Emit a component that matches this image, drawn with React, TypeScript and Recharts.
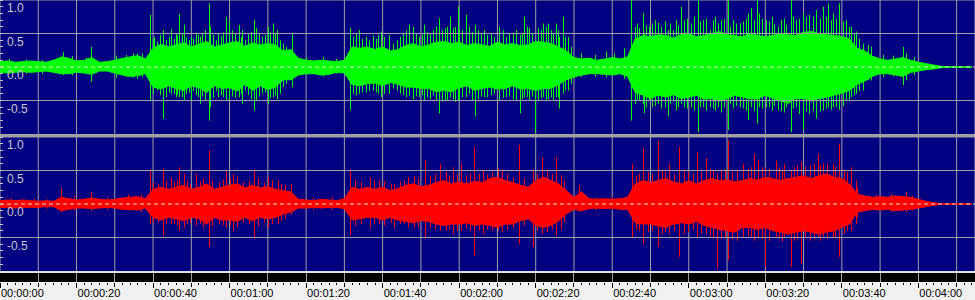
import React from "react";
import { Area, Bar, CartesianGrid, ComposedChart, ReferenceLine, XAxis, YAxis } from "recharts";

// seconds visible across the 975px view
const secondsShown = 254.8;
const binStep = 2;

const gridSeconds = [10, 20, 30, 40, 50, 60, 70, 80, 90, 100, 110, 120, 130, 140, 150, 160, 170, 180, 190, 200, 210, 220, 230, 240, 250];
const rulerSeconds = Array.from({ length: 128 }, (_, i) => i * 2);
const timeLabels = ["00:00:00", "00:00:20", "00:00:40", "00:01:00", "00:01:20", "00:01:40", "00:02:00", "00:02:20", "00:02:40", "00:03:00", "00:03:20", "00:03:40", "00:04:00"];
const ampTicks = [1, 0.9, 0.8, 0.7, 0.6, 0.5, 0.4, 0.3, 0.2, 0.1, 0, -0.1, -0.2, -0.3, -0.4, -0.5, -0.6, -0.7, -0.8, -0.9];
const ampLabels = [1, 0.5, 0, -0.5];
const gridLevels = [1, 0.5, -0.5];

// envelope of the left channel, one value per 2 s
const greenHi = [
  0.08, 0.09, 0.07, 0.08, 0.09, 0.08, 0.07, 0.10, 0.15, 0.13,
  0.09, 0.10, 0.14, 0.07, 0.08, 0.10, 0.13, 0.15, 0.17, 0.12,
  0.28, 0.34, 0.30, 0.33, 0.36, 0.30, 0.34, 0.38, 0.30, 0.33,
  0.36, 0.38, 0.31, 0.36, 0.33, 0.35, 0.33, 0.24, 0.26, 0.13,
  0.10, 0.09, 0.10, 0.09, 0.08, 0.10, 0.30, 0.28, 0.30, 0.26,
  0.30, 0.24, 0.26, 0.32, 0.35, 0.30, 0.33, 0.37, 0.38, 0.35,
  0.37, 0.32, 0.35, 0.33, 0.31, 0.37, 0.33, 0.35, 0.32, 0.33,
  0.38, 0.37, 0.35, 0.30, 0.24, 0.14, 0.12, 0.13, 0.10, 0.12,
  0.14, 0.12, 0.15, 0.42, 0.47, 0.45, 0.48, 0.47, 0.43, 0.48,
  0.50, 0.45, 0.47, 0.50, 0.53, 0.48, 0.47, 0.45, 0.50, 0.47,
  0.45, 0.47, 0.50, 0.48, 0.47, 0.52, 0.53, 0.50, 0.48, 0.47,
  0.45, 0.42, 0.28, 0.24, 0.16, 0.12, 0.10, 0.12, 0.14, 0.10,
  0.07, 0.05, 0.03, 0.01, 0.005, 0.005, 0.005, 0.005,
];
const greenLo = [
  -0.08, -0.09, -0.08, -0.07, -0.08, -0.07, -0.06, -0.08, -0.10, -0.10,
  -0.08, -0.09, -0.11, -0.06, -0.06, -0.09, -0.12, -0.14, -0.13, -0.10,
  -0.30, -0.33, -0.28, -0.32, -0.35, -0.28, -0.31, -0.38, -0.28, -0.32,
  -0.31, -0.36, -0.26, -0.35, -0.28, -0.34, -0.30, -0.19, -0.19, -0.12,
  -0.10, -0.10, -0.12, -0.11, -0.08, -0.09, -0.26, -0.28, -0.25, -0.24,
  -0.28, -0.23, -0.26, -0.30, -0.30, -0.32, -0.32, -0.37, -0.35, -0.37,
  -0.31, -0.28, -0.35, -0.32, -0.30, -0.33, -0.32, -0.28, -0.33, -0.32,
  -0.35, -0.32, -0.32, -0.26, -0.19, -0.15, -0.12, -0.10, -0.10, -0.11,
  -0.12, -0.10, -0.14, -0.38, -0.42, -0.47, -0.42, -0.45, -0.41, -0.47,
  -0.45, -0.42, -0.48, -0.47, -0.51, -0.47, -0.42, -0.45, -0.47, -0.48,
  -0.42, -0.47, -0.51, -0.54, -0.47, -0.47, -0.51, -0.47, -0.45, -0.42,
  -0.39, -0.35, -0.26, -0.21, -0.14, -0.10, -0.10, -0.12, -0.14, -0.08,
  -0.06, -0.04, -0.03, -0.01, -0.005, -0.005, -0.005, -0.005,
];

// envelope of the right channel, one value per 2 s
const redHi = [
  0.05, 0.06, 0.05, 0.06, 0.05, 0.04, 0.05, 0.04, 0.10, 0.08,
  0.06, 0.07, 0.09, 0.07, 0.06, 0.07, 0.09, 0.10, 0.11, 0.08,
  0.22, 0.25, 0.22, 0.25, 0.28, 0.22, 0.25, 0.30, 0.22, 0.25,
  0.28, 0.30, 0.24, 0.28, 0.24, 0.26, 0.22, 0.20, 0.18, 0.07,
  0.06, 0.05, 0.07, 0.06, 0.05, 0.08, 0.25, 0.22, 0.25, 0.22,
  0.25, 0.20, 0.23, 0.28, 0.30, 0.26, 0.28, 0.32, 0.35, 0.30,
  0.33, 0.30, 0.34, 0.32, 0.38, 0.40, 0.35, 0.32, 0.28, 0.25,
  0.35, 0.40, 0.35, 0.30, 0.20, 0.10, 0.18, 0.08, 0.07, 0.08,
  0.07, 0.08, 0.10, 0.30, 0.35, 0.32, 0.35, 0.38, 0.33, 0.30,
  0.35, 0.30, 0.35, 0.38, 0.35, 0.36, 0.33, 0.35, 0.38, 0.36,
  0.40, 0.38, 0.35, 0.38, 0.40, 0.42, 0.38, 0.42, 0.45, 0.40,
  0.38, 0.30, 0.15, 0.12, 0.10, 0.11, 0.10, 0.12, 0.11, 0.10,
  0.07, 0.04, 0.02, 0.005, 0.005, 0.005, 0.005, 0.005,
];
const redLo = [
  -0.05, -0.05, -0.06, -0.05, -0.05, -0.05, -0.04, -0.04, -0.10, -0.08,
  -0.06, -0.06, -0.07, -0.06, -0.05, -0.06, -0.08, -0.08, -0.09, -0.06,
  -0.20, -0.24, -0.20, -0.22, -0.25, -0.20, -0.22, -0.30, -0.20, -0.24,
  -0.24, -0.26, -0.20, -0.25, -0.20, -0.22, -0.20, -0.15, -0.12, -0.06,
  -0.06, -0.05, -0.06, -0.05, -0.05, -0.07, -0.24, -0.22, -0.20, -0.20,
  -0.24, -0.20, -0.24, -0.26, -0.28, -0.25, -0.26, -0.30, -0.32, -0.30,
  -0.30, -0.28, -0.32, -0.30, -0.32, -0.35, -0.30, -0.30, -0.25, -0.22,
  -0.32, -0.35, -0.32, -0.25, -0.15, -0.08, -0.10, -0.07, -0.06, -0.07,
  -0.06, -0.08, -0.08, -0.28, -0.30, -0.30, -0.33, -0.35, -0.30, -0.28,
  -0.30, -0.26, -0.32, -0.35, -0.38, -0.40, -0.42, -0.35, -0.35, -0.38,
  -0.35, -0.40, -0.42, -0.45, -0.42, -0.40, -0.42, -0.45, -0.42, -0.40,
  -0.35, -0.30, -0.12, -0.10, -0.08, -0.09, -0.08, -0.10, -0.09, -0.08,
  -0.06, -0.04, -0.02, -0.005, -0.005, -0.005, -0.005, -0.005,
];

// single peaks: [second, top, bottom]
const greenPeaks = [
  [16.5, 0.22, -0.12], [24, 0.3, -0.22], [30.5, 0.17, -0.16], [36, 0.2, -0.18],
  [39.4, 0.78, -0.49], [40.5, 0.45, -0.3], [42.7, 0.55, -0.77], [44.9, 0.56, -0.4], [46, 0.5, -0.45],
  [47.0, 0.79, -0.45], [48.2, 0.63, -0.5], [50, 0.45, -0.5], [51.4, 0.5, -0.42], [52.3, 0.45, -0.55],
  [54.7, 0.95, -0.8], [55.1, 0.6, -0.6], [57, 0.5, -0.45], [59.2, 0.75, -0.5], [60.1, 0.68, -0.48],
  [62.5, 0.63, -0.45], [63.4, 0.55, -0.55], [65, 0.5, -0.42], [66.6, 0.7, -0.65], [67.1, 0.58, -0.5],
  [70.1, 0.6, -0.55], [71.4, 0.65, -0.45], [72.6, 0.55, -0.48], [73.4, 0.4, -0.4], [76.5, 0.5, -0.3],
  [91.7, 0.58, -0.64], [94.0, 0.55, -0.4], [95.8, 0.45, -0.38], [97.5, 0.47, -0.35], [99.7, 0.53, -0.45],
  [101.9, 0.48, -0.4], [107.1, 0.63, -0.42], [108.0, 0.6, -0.48], [109.7, 0.45, -0.45], [111.0, 0.63, -0.5],
  [114.9, 0.73, -0.69], [116.3, 0.58, -0.5], [117.8, 0.75, -0.45], [119.7, 0.9, -0.5], [120.2, 0.55, -0.5],
  [121.9, 0.78, -0.45], [122.8, 0.6, -0.4], [124.3, 0.63, -0.74], [126.7, 0.55, -0.45], [130.6, 0.6, -0.5],
  [132.4, 0.45, -0.45], [134.1, 0.5, -0.48], [136.0, 0.48, -0.69], [137.0, 0.75, -0.45], [138.5, 0.58, -0.5],
  [140.0, 0.4, -0.98], [142.0, 0.65, -0.45], [143.3, 0.65, -0.48], [145.4, 0.65, -0.45], [146.3, 0.45, -0.62],
  [147.2, 0.75, -0.4], [148.5, 0.45, -0.35], [158.5, 0.23, -0.15], [160.7, 0.2, -0.12], [163.3, 0.28, -0.18],
  [165.0, 1.0, -0.8], [167.2, 0.58, -0.5], [168.1, 0.8, -0.55], [168.5, 0.5, -0.69], [169.8, 0.6, -0.5],
  [174.7, 0.55, -0.74], [176.0, 0.55, -0.5], [178.2, 0.9, -0.55], [182.5, 1.0, -0.97], [183.8, 0.7, -0.6],
  [185.6, 0.55, -0.6], [187.7, 0.65, -0.6], [190.4, 1.0, -0.94], [190.8, 0.6, -0.55], [193.4, 0.65, -0.6],
  [195.6, 0.8, -0.79], [196.5, 0.88, -0.6], [198.0, 1.0, -0.84], [198.6, 0.8, -0.6], [200.4, 0.7, -0.6],
  [202.5, 0.63, -0.58], [203.4, 0.6, -0.64], [205.6, 0.63, -0.6], [206.9, 1.0, -0.97], [208.2, 0.7, -0.6],
  [210.0, 0.8, -0.94], [212.6, 0.75, -0.65], [213.4, 0.85, -0.77], [215.2, 0.9, -0.65], [216.5, 0.95, -0.6],
  [217.8, 0.8, -0.6], [219.5, 0.95, -0.64], [221.3, 0.7, -0.5], [222.6, 0.6, -0.45], [223.9, 0.53, -0.4],
  [225.6, 0.35, -0.35], [226.9, 0.33, -0.2], [227.8, 0.3, -0.2], [236.1, 0.3, -0.27], [237.0, 0.2, -0.2],
];
// ragged edge of the left channel
const greenFringe = [
  [2.5, 0.12, -0.1], [7, 0.11, -0.1], [11, 0.1, -0.1], [19, 0.16, -0.12], [22.5, 0.14, -0.11],
  [33, 0.18, -0.15], [35, 0.2, -0.16], [37.3, 0.2, -0.15],
  [40.0, 0.42, -0.4], [41.2, 0.38, -0.35], [42.0, 0.48, -0.42], [43.5, 0.4, -0.45], [44.3, 0.45, -0.38],
  [45.5, 0.42, -0.4], [46.5, 0.47, -0.42], [47.6, 0.5, -0.45], [48.8, 0.44, -0.4], [49.5, 0.4, -0.38],
  [50.6, 0.42, -0.36], [51.9, 0.48, -0.45], [53.0, 0.5, -0.44], [53.8, 0.55, -0.5], [55.8, 0.48, -0.46],
  [56.5, 0.4, -0.36], [57.8, 0.46, -0.42], [58.5, 0.52, -0.45], [60.8, 0.55, -0.44], [61.6, 0.5, -0.46],
  [63.0, 0.45, -0.4], [64.2, 0.4, -0.35], [65.7, 0.52, -0.48], [67.8, 0.5, -0.44], [68.5, 0.45, -0.4],
  [69.3, 0.48, -0.38], [70.8, 0.52, -0.46], [72.0, 0.5, -0.42], [74.0, 0.35, -0.3], [75.0, 0.3, -0.25],
  [80, 0.14, -0.12], [84.5, 0.15, -0.14], [88, 0.12, -0.1],
  [92.5, 0.45, -0.4], [93.3, 0.5, -0.42], [94.8, 0.42, -0.38], [96.5, 0.4, -0.36], [98.3, 0.42, -0.38],
  [99.0, 0.48, -0.4], [100.6, 0.45, -0.4], [102.8, 0.35, -0.32], [103.8, 0.4, -0.35], [104.6, 0.45, -0.4],
  [105.5, 0.5, -0.42], [106.3, 0.55, -0.45], [108.8, 0.5, -0.44], [110.3, 0.48, -0.42], [111.8, 0.52, -0.45],
  [112.6, 0.5, -0.48], [113.4, 0.55, -0.42], [114.2, 0.6, -0.5], [115.6, 0.55, -0.52], [117.0, 0.6, -0.5],
  [118.5, 0.58, -0.48], [119.0, 0.6, -0.52], [121.0, 0.55, -0.45], [123.5, 0.52, -0.5], [125.0, 0.55, -0.48],
  [125.8, 0.5, -0.44], [127.5, 0.48, -0.45], [128.4, 0.5, -0.42], [129.2, 0.45, -0.4], [131.5, 0.55, -0.46],
  [133.2, 0.5, -0.44], [135.0, 0.55, -0.5], [136.5, 0.5, -0.48], [137.8, 0.6, -0.45], [139.2, 0.5, -0.44],
  [140.8, 0.58, -0.5], [141.4, 0.55, -0.46], [142.8, 0.6, -0.5], [144.0, 0.55, -0.45], [144.7, 0.5, -0.5],
  [146.0, 0.55, -0.45], [147.8, 0.45, -0.35], [149.3, 0.3, -0.25],
  [152, 0.2, -0.15], [155.5, 0.18, -0.14],
  [166.0, 0.6, -0.55], [166.6, 0.65, -0.5], [169.0, 0.62, -0.6], [170.5, 0.65, -0.6], [171.3, 0.7, -0.58],
  [172.2, 0.66, -0.55], [173.0, 0.6, -0.62], [173.8, 0.68, -0.6], [175.3, 0.65, -0.55], [176.7, 0.7, -0.65],
  [177.4, 0.62, -0.6], [179.0, 0.7, -0.6], [179.8, 0.72, -0.62], [180.6, 0.65, -0.6], [181.4, 0.75, -0.65],
  [183.0, 0.68, -0.6], [184.6, 0.72, -0.65], [186.4, 0.7, -0.62], [187.0, 0.75, -0.65], [188.5, 0.7, -0.68],
  [189.3, 0.72, -0.6], [191.6, 0.7, -0.62], [192.5, 0.65, -0.58], [194.2, 0.68, -0.62], [195.0, 0.72, -0.65],
  [197.2, 0.7, -0.66], [199.4, 0.72, -0.62], [201.2, 0.68, -0.6], [201.8, 0.75, -0.65], [204.2, 0.7, -0.66],
  [205.0, 0.72, -0.68], [207.5, 0.75, -0.62], [209.0, 0.72, -0.7], [210.8, 0.74, -0.66], [211.6, 0.78, -0.7],
  [214.3, 0.72, -0.66], [216.0, 0.75, -0.62], [217.2, 0.7, -0.64], [218.6, 0.72, -0.6], [220.4, 0.68, -0.58],
  [222.0, 0.6, -0.5], [223.2, 0.5, -0.42], [224.5, 0.42, -0.36],
  [231, 0.18, -0.15], [233.5, 0.17, -0.14], [239, 0.15, -0.12],
];

const redPeaks = [
  [16.1, 0.23, -0.12], [24.0, 0.18, -0.1], [39.4, 0.5, -0.3], [42.7, 0.53, -0.47], [44.9, 0.4, -0.3],
  [47.0, 0.55, -0.4], [48.3, 0.45, -0.35], [51.4, 0.45, -0.32], [54.7, 0.8, -0.64], [59.2, 0.5, -0.35],
  [61.0, 0.45, -0.4], [66.6, 0.5, -0.5], [70.1, 0.4, -0.35], [72.7, 0.35, -0.3], [76.2, 0.3, -0.15],
  [91.5, 0.5, -0.47], [96.7, 0.4, -0.35], [99.3, 0.35, -0.3], [103.2, 0.3, -0.35], [105.8, 0.35, -0.3],
  [111.1, 0.65, -0.5], [115.0, 0.6, -0.4], [118.5, 0.55, -0.45], [120.6, 0.6, -0.4], [124.1, 0.85, -0.77],
  [126.3, 0.5, -0.45], [130.2, 0.53, -0.4], [135.8, 0.88, -0.6], [139.3, 0.5, -0.64], [141.9, 0.7, -0.45],
  [145.4, 0.7, -0.47], [146.7, 0.43, -0.38], [151.5, 0.28, -0.12], [165.3, 0.6, -0.5], [168.1, 0.83, -0.6],
  [172.0, 0.95, -0.64], [175.0, 0.6, -0.45], [177.7, 0.85, -0.79], [182.4, 0.78, -0.5], [184.6, 0.68, -0.45],
  [187.4, 0.45, -0.97], [190.3, 0.95, -0.84], [194.2, 0.6, -0.5], [197.3, 0.75, -0.55], [198.1, 0.65, -0.5],
  [200.1, 0.53, -0.94], [202.9, 0.65, -0.5], [205.1, 0.6, -0.5], [206.8, 0.5, -0.94], [209.4, 0.63, -0.89],
  [213.8, 0.75, -0.5], [215.1, 0.6, -0.5], [217.7, 0.6, -0.5], [219.3, 0.9, -0.79], [222.5, 0.55, -0.4],
  [223.8, 0.35, -0.3], [236.8, 0.18, -0.12],
];
// ragged edge of the right channel
const redFringe = [
  [3, 0.08, -0.07], [9, 0.08, -0.06], [12.5, 0.07, -0.07], [19.5, 0.12, -0.1], [28, 0.1, -0.08],
  [33.5, 0.14, -0.1], [37, 0.15, -0.12],
  [40.2, 0.32, -0.28], [41.3, 0.3, -0.28], [43.6, 0.35, -0.3], [45.6, 0.33, -0.3], [46.4, 0.36, -0.32],
  [48.9, 0.35, -0.3], [49.8, 0.3, -0.28], [52.5, 0.34, -0.3], [53.3, 0.38, -0.35], [55.6, 0.35, -0.33],
  [57.4, 0.32, -0.3], [58.3, 0.36, -0.32], [60.3, 0.38, -0.32], [62.2, 0.4, -0.35], [63.6, 0.33, -0.28],
  [65.2, 0.35, -0.3], [67.5, 0.38, -0.33], [69.0, 0.32, -0.28], [71.2, 0.36, -0.3], [73.5, 0.3, -0.25],
  [74.6, 0.28, -0.22], [82, 0.09, -0.08], [87, 0.1, -0.08],
  [92.8, 0.36, -0.32], [94.5, 0.33, -0.3], [97.8, 0.35, -0.3], [100.5, 0.34, -0.32], [102.3, 0.3, -0.28],
  [104.6, 0.33, -0.3], [106.8, 0.4, -0.35], [108.2, 0.42, -0.36], [109.5, 0.38, -0.35], [112.5, 0.42, -0.36],
  [113.8, 0.45, -0.38], [116.6, 0.48, -0.4], [117.5, 0.42, -0.38], [119.6, 0.45, -0.4], [121.8, 0.42, -0.36],
  [122.9, 0.46, -0.4], [125.2, 0.45, -0.4], [127.4, 0.44, -0.38], [128.8, 0.48, -0.4], [131.3, 0.5, -0.42],
  [132.6, 0.45, -0.38], [134.2, 0.4, -0.36], [137.0, 0.38, -0.32], [140.5, 0.45, -0.4], [143.2, 0.5, -0.42],
  [144.3, 0.45, -0.38], [147.5, 0.35, -0.28], [156, 0.1, -0.09], [160, 0.11, -0.09],
  [166.4, 0.42, -0.38], [167.2, 0.45, -0.4], [169.4, 0.48, -0.42], [170.6, 0.45, -0.4], [173.2, 0.5, -0.45],
  [174.0, 0.48, -0.42], [176.2, 0.45, -0.4], [178.8, 0.5, -0.45], [180.0, 0.48, -0.42], [181.2, 0.45, -0.38],
  [183.3, 0.48, -0.44], [185.6, 0.52, -0.48], [186.5, 0.5, -0.5], [188.6, 0.5, -0.52], [189.5, 0.52, -0.5],
  [191.5, 0.48, -0.52], [192.8, 0.5, -0.55], [195.5, 0.52, -0.48], [196.4, 0.55, -0.5], [199.3, 0.55, -0.52],
  [201.2, 0.52, -0.55], [203.6, 0.55, -0.52], [204.4, 0.5, -0.56], [207.6, 0.55, -0.55], [208.5, 0.58, -0.52],
  [210.6, 0.55, -0.5], [211.8, 0.58, -0.55], [212.8, 0.6, -0.52], [214.5, 0.58, -0.55], [216.2, 0.6, -0.5],
  [218.4, 0.55, -0.5], [220.6, 0.5, -0.45], [221.6, 0.48, -0.4], [224.2, 0.25, -0.2],
  [229, 0.14, -0.1], [233, 0.15, -0.12], [238.5, 0.12, -0.1],
];

const navy = "#000080";
const gridColor = "#a0a0a0";
const labelColor = "#c8c8c8";
const font = "'Liberation Sans', Arial, sans-serif";
// top of the time ruler inside the lower chart
const rulerTop = 134;

const toBody = (hi, lo) => hi.map((h, i) => ({ t: i * binStep, v: [lo[i], h] }));
const toSpikes = (...lists) =>
  lists
    .flat()
    .map(([t, hi, lo]) => ({ t, v: [lo, hi] }))
    .sort((a, b) => a.t - b.t);

const AmpTick = (props) => {
  const { y, payload } = props;
  const v = payload.value;
  const showLabel = ampLabels.includes(v);
  return (
    <g>
      <line x1={0} x2={3} y1={y} y2={y} stroke={labelColor} shapeRendering="crispEdges" />
      {showLabel && (
        <text x={7} y={y + 12} fill={labelColor} fontSize={12} fontFamily={font}>
          {v.toFixed(1)}
        </text>
      )}
    </g>
  );
};

const RulerTick = (props) => {
  const { x, payload } = props;
  const t = payload.value;
  const major = t % 20 === 0;
  const mid = t % 10 === 0;
  const y = rulerTop;
  return (
    <g>
      {mid && t > 0 && <line x1={x} x2={x} y1={y + 2} y2={y + 11} stroke={gridColor} shapeRendering="crispEdges" />}
      <line x1={x} x2={x} y1={y + 12} y2={y + (major ? 17 : mid ? 16 : 13.5)} stroke="#000" shapeRendering="crispEdges" />
      {major && (
        <text x={x + 1} y={y + 26} fill="#000" fontSize={11} fontFamily={font}>
          {timeLabels[t / 20]}
        </text>
      )}
    </g>
  );
};

const spikeShape = (color) => (p) => {
  const top = Math.min(p.y, p.y + p.height);
  const h = Math.max(Math.abs(p.height), 1);
  return <rect x={Math.round(p.x + p.width / 2 - 0.5)} y={top} width={1} height={h} fill={color} />;
};

const Panel = ({ body, spikes, color, ruler }) => (
  <ComposedChart width={975} height={ruler ? 163 : 134} data={spikes} margin={{ top: 0, right: 0, bottom: 0, left: 0 }}>
    <CartesianGrid xAxisId="grid" horizontal={false} stroke={gridColor} />
    {gridLevels.map((v) => (
      <ReferenceLine key={v} xAxisId="grid" y={v} stroke={gridColor} />
    ))}
    <XAxis xAxisId="grid" dataKey="t" type="number" domain={[0, secondsShown]} ticks={gridSeconds} allowDataOverflow hide />
    {ruler && (
      <XAxis
        xAxisId="ruler"
        dataKey="t"
        type="number"
        domain={[0, secondsShown]}
        ticks={rulerSeconds}
        interval={0}
        height={29}
        axisLine={false}
        tickLine={false}
        tickSize={0}
        tickMargin={0}
        tick={<RulerTick />}
        allowDataOverflow
      />
    )}
    <YAxis
      type="number"
      domain={[-1, 1]}
      ticks={ampTicks}
      interval={0}
      mirror
      width={1}
      axisLine={false}
      tickLine={false}
      tick={<AmpTick />}
      allowDataOverflow
    />
    <Area
      xAxisId="grid"
      data={body}
      dataKey="v"
      type="linear"
      stroke={color}
      strokeWidth={1}
      fill={color}
      fillOpacity={1}
      dot={false}
      activeDot={false}
      isAnimationActive={false}
    />
    <Bar xAxisId="grid" dataKey="v" fill={color} barSize={1} shape={spikeShape(color)} isAnimationActive={false} />
    <ReferenceLine xAxisId="grid" y={0} stroke="#e0e0c8" strokeDasharray="4 3" />
  </ComposedChart>
);

export default function App() {
  return (
    <div style={{ position: "absolute", left: 0, top: 0, width: 975, height: 300, background: "#f0f0f0", overflow: "hidden" }}>
      <div style={{ position: "absolute", left: 0, top: 0, width: 975, height: 134, background: navy }} />
      <div style={{ position: "absolute", left: 0, top: 134, width: 975, height: 3, background: "#a0a0a0" }} />
      <div style={{ position: "absolute", left: 0, top: 137, width: 975, height: 134, background: navy }} />
      <div style={{ position: "absolute", left: 0, top: 271, width: 975, height: 2, background: "#e0e0e0" }} />
      <div style={{ position: "absolute", left: 0, top: 273, width: 975, height: 9, background: "#000" }} />
      <div style={{ position: "absolute", left: 0, top: 0 }}>
        <Panel body={toBody(greenHi, greenLo)} spikes={toSpikes(greenPeaks, greenFringe)} color="#00ff00" />
      </div>
      <div style={{ position: "absolute", left: 0, top: 137 }}>
        <Panel body={toBody(redHi, redLo)} spikes={toSpikes(redPeaks, redFringe)} color="#ff0000" ruler />
      </div>
    </div>
  );
}
